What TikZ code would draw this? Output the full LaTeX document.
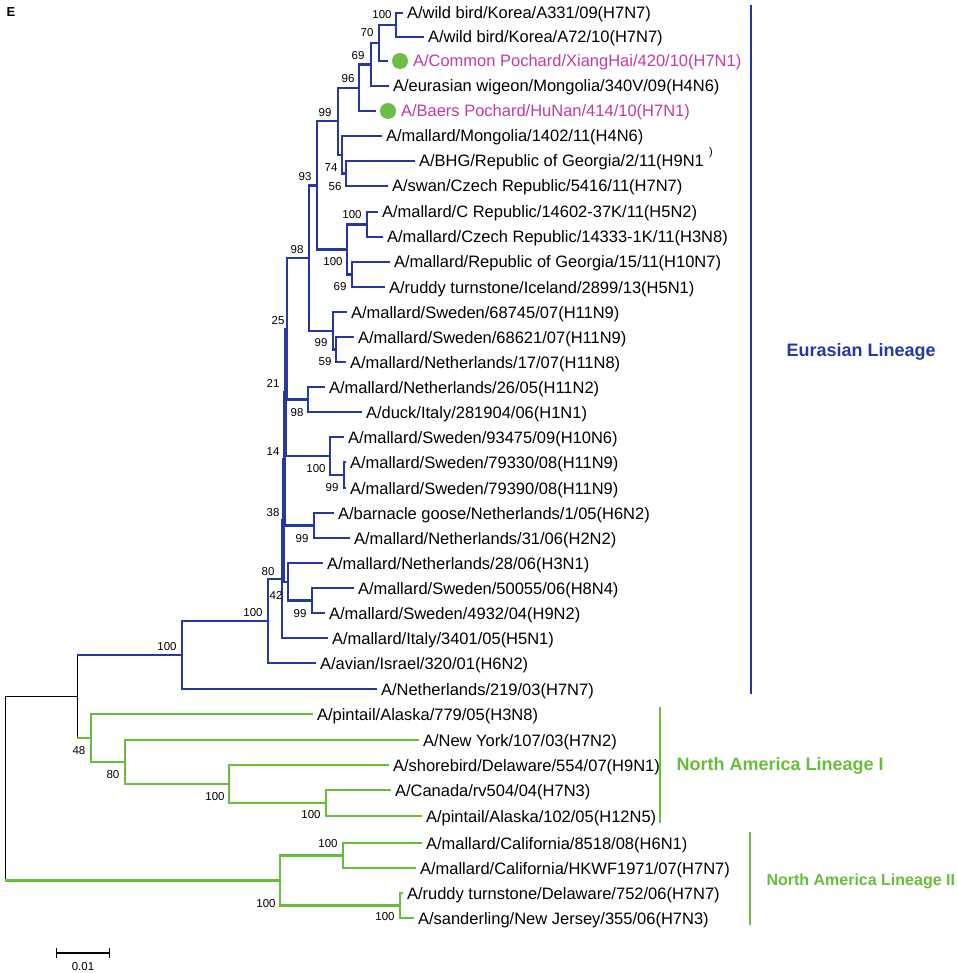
\documentclass[tikz,border=0pt]{standalone}
\usepackage{fontspec}
\setmainfont{Liberation Sans}
\usepackage{tikz}
\usetikzlibrary{positioning,arrows.meta}
\definecolor{eublue}{RGB}{38,56,163}
\definecolor{nagreen}{RGB}{104,190,58}
\definecolor{pochard}{RGB}{196,58,160}
\definecolor{dotgreen}{RGB}{108,190,70}

\begin{document}
\begin{tikzpicture}[x=1pt,y=-1pt,
  leaf/.style={anchor=west,inner xsep=4pt,inner ysep=0pt,outer sep=0pt,
    text height=12pt,text depth=0pt,font=\fontsize{16.5}{18}\selectfont},
  bs/.style={inner sep=0pt,font=\fontsize{11.5}{13}\selectfont},
  elbow/.style={to path={|- (\tikztotarget)}},
  eu/.style={elbow,draw=eublue,line width=2.4pt},
  na/.style={elbow,draw=nagreen,line width=2.4pt},
  stem/.style={draw=black,line width=1pt},
  dot/.style={circle,fill=dotgreen,minimum size=16pt,inner sep=0pt,outer sep=0pt},
  clade/.style={anchor=west,font=\fontsize{18}{20}\selectfont\bfseries}]

\useasboundingbox (0,0) rectangle (956,973);

\node[font=\fontsize{13}{14}\selectfont\bfseries] (panel) at (11,12) {E};

\coordinate (k1) at (396,25);
\coordinate (k2) at (379,43);
\coordinate (k3) at (371,64.5);
\coordinate (k4) at (359,87.75);
\coordinate (g1) at (346,173.5);
\coordinate (g2) at (342,154.75);
\coordinate (k5) at (338,121.25);
\coordinate (c1) at (367,224.5);
\coordinate (c2) at (352,274.5);
\coordinate (c3) at (347,249.5);
\coordinate (k6) at (317,185.4);
\coordinate (s1) at (336,349.5);
\coordinate (s2) at (333,330.75);
\coordinate (k7) at (309,258.1);
\coordinate (t1) at (308,399.5);
\coordinate (p25) at (287,328.8);
\coordinate (v1) at (344,475);
\coordinate (u1) at (330,456);
\coordinate (p21) at (285.5,392.4);
\coordinate (w1) at (314,525.5);
\coordinate (p14) at (284.5,459);
\coordinate (x1) at (312,600.5);
\coordinate (y1) at (288,581.75);
\coordinate (p38) at (283.5,520.4);
\coordinate (p80) at (282,579.2);
\coordinate (e1) at (268,621.1);
\coordinate (e0) at (182,655);
\coordinate (a4) at (326,803);
\coordinate (a3) at (229,784);
\coordinate (a2) at (125,762);
\coordinate (a1) at (91,738);
\coordinate (g0) at (77,696.5);
\coordinate (b1) at (343,855.5);
\coordinate (b2) at (400,905.5);
\coordinate (b0) at (280,880.5);
\coordinate (r0) at (5,788.5);

\node[leaf] (l0) at (403,13) {A/wild bird/Korea/A331/09(H7N7)};
\node[leaf] (l1) at (424,37) {A/wild bird/Korea/A72/10(H7N7)};
\node[dot] (d2) at (400,61) {};
\node[leaf,text=pochard,right=1pt of d2] (l2) {A/Common Pochard/XiangHai/420/10(H7N1)};
\node[leaf] (l3) at (389,86) {A/eurasian wigeon/Mongolia/340V/09(H4N6)};
\node[dot] (d4) at (388,111) {};
\node[leaf,text=pochard,right=1pt of d4] (l4) {A/Baers Pochard/HuNan/414/10(H7N1)};
\node[leaf] (l5) at (382,136) {A/mallard/Mongolia/1402/11(H4N6)};
\node[leaf] (l6) at (415,161) {A/BHG/Republic of Georgia/2/11(H9N1};
\node[leaf] (l7) at (388,186) {A/swan/Czech Republic/5416/11(H7N7)};
\node[leaf] (l8) at (378,212) {A/mallard/C Republic/14602-37K/11(H5N2)};
\node[leaf] (l9) at (383,237) {A/mallard/Czech Republic/14333-1K/11(H3N8)};
\node[leaf] (l10) at (390,262) {A/mallard/Republic of Georgia/15/11(H10N7)};
\node[leaf] (l11) at (385,287) {A/ruddy turnstone/Iceland/2899/13(H5N1)};
\node[leaf] (l12) at (347,312) {A/mallard/Sweden/68745/07(H11N9)};
\node[leaf] (l13) at (354,337) {A/mallard/Sweden/68621/07(H11N9)};
\node[leaf] (l14) at (346,362) {A/mallard/Netherlands/17/07(H11N8)};
\node[leaf] (l15) at (325,387) {A/mallard/Netherlands/26/05(H11N2)};
\node[leaf] (l16) at (362,412) {A/duck/Italy/281904/06(H1N1)};
\node[leaf] (l17) at (344,437) {A/mallard/Sweden/93475/09(H10N6)};
\node[leaf] (l18) at (346,462) {A/mallard/Sweden/79330/08(H11N9)};
\node[leaf] (l19) at (346,488) {A/mallard/Sweden/79390/08(H11N9)};
\node[leaf] (l20) at (334,513) {A/barnacle goose/Netherlands/1/05(H6N2)};
\node[leaf] (l21) at (350,538) {A/mallard/Netherlands/31/06(H2N2)};
\node[leaf] (l22) at (323,563) {A/mallard/Netherlands/28/06(H3N1)};
\node[leaf] (l23) at (354,588) {A/mallard/Sweden/50055/06(H8N4)};
\node[leaf] (l24) at (325,613) {A/mallard/Sweden/4932/04(H9N2)};
\node[leaf] (l25) at (328,638) {A/mallard/Italy/3401/05(H5N1)};
\node[leaf] (l26) at (316,663) {A/avian/Israel/320/01(H6N2)};
\node[leaf] (l27) at (377,689) {A/Netherlands/219/03(H7N7)};
\node[leaf] (l28) at (313,714) {A/pintail/Alaska/779/05(H3N8)};
\node[leaf] (l29) at (419,740) {A/New York/107/03(H7N2)};
\node[leaf] (l30) at (389,765) {A/shorebird/Delaware/554/07(H9N1)};
\node[leaf] (l31) at (391,790) {A/Canada/rv504/04(H7N3)};
\node[leaf] (l32) at (422,816) {A/pintail/Alaska/102/05(H12N5)};
\node[leaf] (l33) at (422,843) {A/mallard/California/8518/08(H6N1)};
\node[leaf] (l34) at (416,868) {A/mallard/California/HKWF1971/07(H7N7)};
\node[leaf] (l35) at (403,893) {A/ruddy turnstone/Delaware/752/06(H7N7)};
\node[leaf] (l36) at (414,918) {A/sanderling/New Jersey/355/06(H7N3)};
\node[bs,font=\fontsize{11}{12}\selectfont] (paren) at (711,153) {)};

\path (k1) edge[eu] (l0) edge[eu] (l1)
  (k2) edge[eu] (k1) edge[eu,shorten >=4pt] (d2)
  (k3) edge[eu] (k2) edge[eu] (l3)
  (k4) edge[eu] (k3) edge[eu,shorten >=4pt] (d4)
  (g1) edge[eu] (l6) edge[eu] (l7)
  (g2) edge[eu] (l5) edge[eu] (g1)
  (k5) edge[eu] (k4) edge[eu] (g2)
  (c1) edge[eu] (l8) edge[eu] (l9)
  (c2) edge[eu] (l10) edge[eu] (l11)
  (c3) edge[eu] (c1) edge[eu] (c2)
  (k6) edge[eu] (k5) edge[eu] (c3)
  (s1) edge[eu] (l13) edge[eu] (l14)
  (s2) edge[eu] (l12) edge[eu] (s1)
  (k7) edge[eu] (k6) edge[eu] (s2)
  (t1) edge[eu] (l15) edge[eu] (l16)
  (p25) edge[eu] (k7) edge[eu] (t1)
  (v1) edge[eu] (l18) edge[eu] (l19)
  (u1) edge[eu] (l17) edge[eu] (v1)
  (p21) edge[eu] (p25) edge[eu] (u1)
  (w1) edge[eu] (l20) edge[eu] (l21)
  (p14) edge[eu] (p21) edge[eu] (w1)
  (x1) edge[eu] (l23) edge[eu] (l24)
  (y1) edge[eu] (l22) edge[eu] (x1)
  (p38) edge[eu] (p14) edge[eu] (y1)
  (p80) edge[eu] (p38) edge[eu] (l25)
  (e1) edge[eu] (p80) edge[eu] (l26)
  (e0) edge[eu] (e1) edge[eu] (l27);

\path (a4) edge[na] (l31) edge[na] (l32)
  (a3) edge[na] (l30) edge[na] (a4)
  (a2) edge[na] (l29) edge[na] (a3)
  (a1) edge[na] (l28) edge[na] (a2)
  (b1) edge[na] (l33) edge[na] (l34)
  (b2) edge[na] (l35) edge[na] (l36)
  (b0) edge[na] (b1) edge[na] (b2);

\draw[stem] (g0 -| r0) -- (b0 -| r0);
\draw[stem] (g0 -| r0) -- (g0);
\draw[stem] (e0 -| g0) -- (a1 -| g0);
\draw[eublue,line width=2.4pt] (e0 -| g0) -- (e0);
\draw[nagreen,line width=2.4pt] (a1 -| g0) -- (a1);
\draw[nagreen,line width=2.4pt] (b0 -| r0) -- (b0);

\node[bs] (n-k1) at (382,15) {100};
\node[bs] (n-k2) at (367,33) {70};
\node[bs] (n-k3) at (358,56) {69};
\node[bs] (n-k4) at (348,79) {96};
\node[bs] (n-k5) at (325,113) {99};
\node[bs] (n-k6) at (305,177) {93};
\node[bs] (n-k7) at (297,250) {98};
\node[bs] (n-g2) at (331,168) {74};
\node[bs] (n-g1) at (335,187) {56};
\node[bs] (n-c1) at (352,215) {100};
\node[bs] (n-c3) at (333,262) {100};
\node[bs] (n-c2) at (340,287) {69};
\node[bs] (n-s2) at (321,343) {99};
\node[bs] (n-s1) at (325,362) {59};
\node[bs] (n-p25) at (278,321) {25};
\node[bs] (n-p21) at (273,383) {21};
\node[bs] (n-t1) at (297,413) {98};
\node[bs] (n-p14) at (273,452) {14};
\node[bs] (n-u1) at (316,469) {100};
\node[bs] (n-v1) at (332,488) {99};
\node[bs] (n-p38) at (273,513) {38};
\node[bs] (n-w1) at (302,539) {99};
\node[bs] (n-p80) at (268,572) {80};
\node[bs] (n-y1) at (276,595) {42};
\node[bs] (n-x1) at (300,614) {99};
\node[bs] (n-e1) at (253,613) {100};
\node[bs] (n-e0) at (167,647) {100};
\node[bs] (n-a1) at (79,751) {48};
\node[bs] (n-a2) at (113,775) {80};
\node[bs] (n-a3) at (215,797) {100};
\node[bs] (n-a4) at (311,815) {100};
\node[bs] (n-b1) at (328,844) {100};
\node[bs] (n-b0) at (266,904) {100};
\node[bs] (n-b2) at (385,917) {100};

\draw[eublue,line width=2pt] (751,5) -- (751,694);
\draw[nagreen,line width=2pt] (660,707) -- (660,823);
\draw[nagreen,line width=2pt] (750,832) -- (750,925);
\node[clade,text=eublue] (eurasian) at (783,352) {Eurasian Lineage};
\node[clade,text=nagreen] (na1) at (673,766) {North America Lineage I};
\node[clade,text=nagreen,font=\fontsize{16}{18}\selectfont\bfseries] (na2) at (763,881) {North America Lineage II};

\coordinate (sb1) at (56,953);
\coordinate (sb2) at (110,953);
\draw[line width=1.4pt,{Bar[width=10pt]}-{Bar[width=10pt]}] (sb1) -- (sb2);
\node[bs] (sbl) at (83,967) {0.01};

\end{tikzpicture}
\end{document}
